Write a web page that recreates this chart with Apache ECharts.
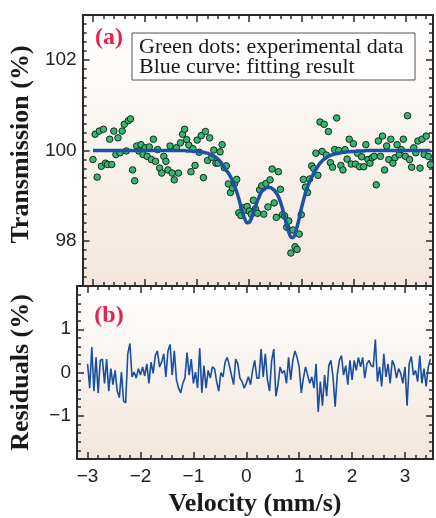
<!DOCTYPE html>
<html>
<head>
<meta charset="utf-8">
<script src="https://cdn.jsdelivr.net/npm/echarts@6/dist/echarts.min.js"></script>
<style>
html,body{margin:0;padding:0;background:#fff;}
#chart{width:436px;height:518px;}
</style>
</head>
<body>
<div id="chart"></div>
<script>
// ---- data ----
const velocityStart = -3.0;   // mm/s, first channel
const velocityStep = 0.04;    // mm/s, channel spacing
const residuals = [
 0.20,-0.36,0.59,-0.43,0.35,-0.47,0.28,0.31,-0.25,0.31,
 -0.43,0.09,-0.28,0.05,-0.43,-0.58,0.01,-0.66,-0.70,0.43,
 0.67,-0.10,0.01,-0.13,0.09,-0.06,0.13,-0.08,0.20,-0.25,
 0.24,-0.02,0.39,0.50,0.13,0.24,0.43,-0.10,0.50,0.65,
 -0.06,0.50,-0.17,-0.36,-0.47,-0.25,-0.13,0.46,-0.06,0.31,
 -0.25,0.01,-0.36,0.56,-0.47,0.16,-0.36,0.05,-0.13,0.13,
 0.09,-0.21,-0.43,0.00,-0.10,0.24,0.35,0.16,-0.06,-0.28,
 0.31,0.20,-0.13,-0.21,-0.36,-0.25,-0.10,-0.28,0.05,0.28,
 -0.13,-0.13,0.54,-0.10,0.43,-0.17,-0.43,0.28,0.54,-0.55,
 -0.28,0.13,-0.02,0.05,-0.25,0.35,-0.17,0.28,0.50,0.35,
 0.13,-0.47,-0.13,0.13,-0.06,-0.25,-0.10,-0.36,0.20,-0.91,
 -0.21,-0.77,-0.06,-0.55,0.16,0.28,-0.10,-0.79,-0.06,0.28,
 0.39,-0.06,0.16,-0.28,0.28,-0.17,0.28,0.05,0.35,0.13,
 0.35,-0.13,0.20,0.28,0.16,0.13,0.76,-0.21,0.13,-0.32,
 0.43,-0.10,0.20,-0.25,0.28,0.16,-0.13,0.09,-0.02,-0.25,
 0.13,-0.77,0.20,0.37,-0.06,0.05,-0.21,0.39,-0.25,0.09,
 -0.32,0.13,0.31
];
const fitCurve = [
 100.00,100.00,100.00,100.00,100.00,100.00,100.00,100.00,100.00,100.00,
 100.00,100.00,100.00,100.00,100.00,100.00,100.00,100.00,100.00,100.00,
 100.00,100.00,100.00,100.00,100.00,100.00,100.00,100.00,100.00,100.00,
 100.00,100.00,100.00,100.00,100.00,100.00,100.00,100.00,100.00,100.00,
 100.00,100.00,100.00,100.00,100.00,99.99,99.99,99.99,99.98,99.98,
 99.98,99.97,99.97,99.96,99.95,99.94,99.92,99.90,99.88,99.85,
 99.81,99.76,99.70,99.62,99.56,99.50,99.42,99.33,99.21,99.08,
 98.93,98.76,98.60,98.47,98.40,98.41,98.49,98.62,98.76,98.89,
 99.00,99.09,99.13,99.17,99.18,99.18,99.16,99.12,99.06,98.98,
 98.86,98.71,98.53,98.35,98.19,98.08,98.07,98.15,98.31,98.50,
 98.71,98.89,99.06,99.20,99.31,99.41,99.50,99.58,99.65,99.72,
 99.77,99.81,99.84,99.87,99.89,99.91,99.92,99.93,99.94,99.95,
 99.96,99.96,99.97,99.97,99.98,99.98,99.98,99.99,99.99,99.99,
 99.99,100.00,100.00,100.00,100.00,100.00,100.00,100.00,100.00,100.00,
 100.00,100.00,100.00,100.00,100.00,100.00,100.00,100.00,100.00,100.00,
 100.00,100.00,100.00,100.00,100.00,100.00,100.00,100.00,100.00,100.00,
 100.00,100.00,100.00
];
const transmission = [
 99.80,100.36,99.41,100.43,99.65,100.47,99.72,99.69,100.25,99.69,
 100.43,99.91,100.28,99.95,100.43,100.58,99.99,100.66,100.70,99.57,
 99.33,100.10,99.99,100.13,99.91,100.06,99.87,100.08,99.80,100.25,
 99.76,100.02,99.61,99.50,99.87,99.76,99.57,100.10,99.50,99.35,
 100.06,99.50,100.17,100.36,100.47,100.24,100.12,99.53,100.04,99.67,
 100.23,99.96,100.33,99.40,100.42,99.78,100.28,99.85,100.01,99.72,
 99.72,99.97,100.13,99.62,99.66,99.26,99.07,99.17,99.27,99.36,
 98.62,98.56,98.73,98.68,98.76,98.66,98.59,98.90,98.71,98.61,
 99.13,99.22,98.59,99.27,98.75,99.35,99.59,98.84,98.52,99.53,
 99.14,98.58,98.55,98.30,98.44,97.73,98.24,97.87,97.81,98.15,
 98.58,99.36,99.19,99.07,99.37,99.66,99.60,99.94,99.45,100.63,
 99.98,100.58,99.90,100.42,99.73,99.63,100.02,100.72,100.00,99.67,
 99.57,100.02,99.81,100.25,99.70,100.15,99.70,99.94,99.64,99.86,
 99.64,100.13,99.80,99.72,99.84,99.87,99.24,100.21,99.87,100.32,
 99.57,100.10,99.80,100.25,99.72,99.84,100.13,99.91,100.02,100.25,
 99.87,100.77,99.80,99.63,100.06,99.95,100.21,99.61,100.25,99.91,
 100.32,99.87,99.69
];
const xTickLabels = [-3,-2,-1,0,1,2,3];
const topTickLabels = [98,100,102];
const resTickLabels = [-1,0,1];

// ---- layout / style ----
const X_MIN = -3.2, X_MAX = 3.53;
const TOP_MIN = 97, TOP_MAX = 103, RES_MIN = -2, RES_MAX = 2;
const L = 76, W = 357, TOP = 15, H1 = 271, H2 = 177;
const FRAME = '#2a2a2a';
const velocity = residuals.map((_, i) => +(velocityStart + velocityStep * i).toFixed(2));

function minorVals(a, b) { const out = []; for (let k = Math.round(a * 5); k <= Math.round(b * 5); k++) out.push(k / 5); return out; }
const xMinor = minorVals(-3.2, 3.4);
const topMinor = minorVals(97, 103);
const resMinor = minorVals(-2, 2);
const fmt = v => (v < 0 ? '\u2212' + Math.abs(v) : String(v));
const titleStyle = { fontFamily: 'Liberation Serif', fontWeight: 'bold', fontSize: 26, color: '#1a1a1a' };

function bg() {
  return { type: 'linear', x: 0, y: 0, x2: 0, y2: 1,
    colorStops: [{ offset: 0, color: '#ffffff' }, { offset: 1, color: '#f2e6dc' }] };
}
function xAx(grid, pos, vals, len, line, labels) {
  return {
    type: 'value', gridIndex: grid, position: pos, min: X_MIN, max: X_MAX,
    axisLine: { show: line, onZero: false, lineStyle: { color: FRAME, width: 2 } },
    axisTick: { show: true, inside: true, length: len, customValues: vals, lineStyle: { color: FRAME, width: 1.5 } },
    axisLabel: labels ? { show: true, customValues: xTickLabels, formatter: fmt, margin: 8,
      fontFamily: 'Liberation Sans', fontSize: 19, color: '#222' } : { show: false },
    splitLine: { show: false }
  };
}
function yAx(grid, pos, min, max, vals, len, line, labelVals) {
  return {
    type: 'value', gridIndex: grid, position: pos, min: min, max: max,
    axisLine: { show: line, onZero: false, lineStyle: { color: FRAME, width: 2 } },
    axisTick: { show: true, inside: true, length: len, customValues: vals, lineStyle: { color: FRAME, width: 1.5 } },
    axisLabel: labelVals ? { show: true, customValues: labelVals, formatter: fmt, margin: 6,
      fontFamily: 'Liberation Sans', fontSize: 19, color: '#222' } : { show: false },
    splitLine: { show: false }
  };
}

const xAxes = [
  xAx(0, 'bottom', xTickLabels, 7, true, false),
  xAx(0, 'bottom', xMinor, 4, false, false),
  xAx(0, 'top', xTickLabels, 7, true, false),
  xAx(0, 'top', xMinor, 4, false, false),
  Object.assign(xAx(1, 'bottom', xTickLabels, 7, true, true), {
    name: 'Velocity (mm/s)', nameLocation: 'middle', nameGap: 32, nameTextStyle: titleStyle
  }),
  xAx(1, 'bottom', xMinor, 4, false, false),
  xAx(1, 'top', xTickLabels, 7, true, false),
  xAx(1, 'top', xMinor, 4, false, false)
];
const yAxes = [
  Object.assign(yAx(0, 'left', TOP_MIN, TOP_MAX, topTickLabels, 7, true, topTickLabels), {
    name: 'Transmission (%)', nameLocation: 'middle', nameGap: 43,
    nameTextStyle: Object.assign({}, titleStyle, { padding: [0, 0, 0, 12] })
  }),
  yAx(0, 'left', TOP_MIN, TOP_MAX, topMinor, 4, false, null),
  yAx(0, 'right', TOP_MIN, TOP_MAX, topTickLabels, 7, true, null),
  yAx(0, 'right', TOP_MIN, TOP_MAX, topMinor, 4, false, null),
  Object.assign(yAx(1, 'left', RES_MIN, RES_MAX, resTickLabels, 7, true, resTickLabels), {
    name: 'Residuals (%)', nameLocation: 'middle', nameGap: 43, nameTextStyle: titleStyle
  }),
  yAx(1, 'left', RES_MIN, RES_MAX, resMinor, 4, false, null),
  yAx(1, 'right', RES_MIN, RES_MAX, resTickLabels, 7, true, null),
  yAx(1, 'right', RES_MIN, RES_MAX, resMinor, 4, false, null)
];

const chart = echarts.init(document.getElementById('chart'), null, { renderer: 'canvas' });
chart.setOption({
  animation: false,
  backgroundColor: '#ffffff',
  grid: [
    { left: L, top: TOP, width: W, height: H1, show: true, backgroundColor: bg(), borderWidth: 0 },
    { left: L, top: TOP + H1, width: W, height: H2, show: true, backgroundColor: bg(), borderWidth: 0 }
  ],
  xAxis: xAxes,
  yAxis: yAxes,
  series: [
    {
      type: 'scatter', xAxisIndex: 0, yAxisIndex: 0, z: 3,
      data: velocity.map((v, i) => [v, transmission[i]]),
      symbol: 'circle', symbolSize: 6.5,
      itemStyle: { color: '#38b670', borderColor: '#102a1a', borderWidth: 1, opacity: 1 }
    },
    {
      type: 'line', xAxisIndex: 0, yAxisIndex: 0, z: 4,
      data: velocity.map((v, i) => [v, fitCurve[i]]),
      showSymbol: false, smooth: 0.3,
      lineStyle: { color: '#1c52a3', width: 3.5 }
    },
    {
      type: 'line', xAxisIndex: 4, yAxisIndex: 4, z: 3,
      data: velocity.map((v, i) => [v, residuals[i]]),
      showSymbol: false,
      lineStyle: { color: '#1a4ea0', width: 1.6 }
    }
  ],
  graphic: [
    { type: 'rect', z: 10, shape: { x: 132, y: 33, width: 283, height: 47 },
      style: { fill: '#ffffff', stroke: '#555555', lineWidth: 1 } },
    { type: 'text', z: 11, x: 139, y: 47,
      style: { text: 'Green dots: experimental data', font: '22px "Liberation Serif"', fill: '#1a1a1a', verticalAlign: 'middle' } },
    { type: 'text', z: 11, x: 139, y: 67,
      style: { text: 'Blue curve: fitting result', font: '22px "Liberation Serif"', fill: '#1a1a1a', verticalAlign: 'middle' } },
    { type: 'text', z: 11, x: 109, y: 38,
      style: { text: '(a)', font: 'bold 24px "Liberation Serif"', fill: '#e32450', align: 'center', verticalAlign: 'middle' } },
    { type: 'text', z: 11, x: 109, y: 316,
      style: { text: '(b)', font: 'bold 24px "Liberation Serif"', fill: '#e32450', align: 'center', verticalAlign: 'middle' } }
  ]
});
</script>
</body>
</html>
